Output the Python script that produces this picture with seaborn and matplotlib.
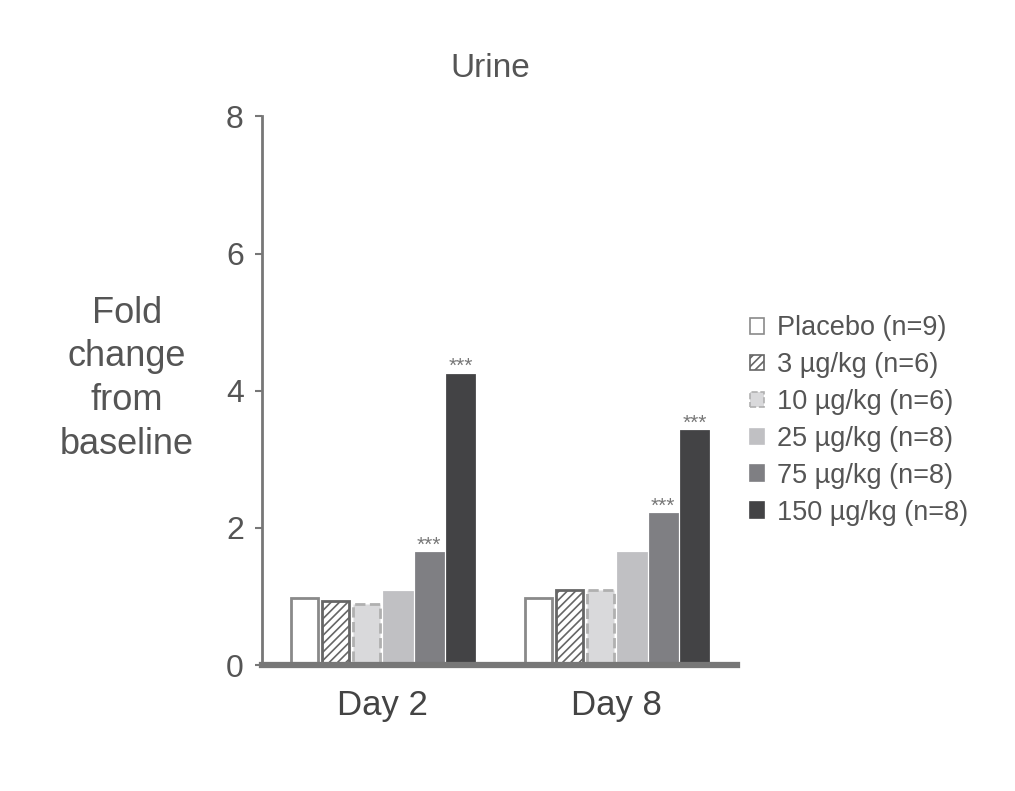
import matplotlib
matplotlib.use("Agg")
import matplotlib.pyplot as plt
import seaborn as sns
import pandas as pd
from matplotlib.patches import Patch

days = ["Day 2", "Day 8"]
doses = ["Placebo (n=9)", "3 µg/kg (n=6)", "10 µg/kg (n=6)",
         "25 µg/kg (n=8)", "75 µg/kg (n=8)", "150 µg/kg (n=8)"]
day2_values = [0.98, 0.93, 0.89, 1.06, 1.63, 4.23]
day8_values = [0.98, 1.09, 1.09, 1.63, 2.20, 3.41]
significant = [False, False, False, False, True, True]

fills = ["#ffffff", "#ffffff", "#d9d9db", "#c0c0c3", "#7f7f83", "#434345"]
edges = ["#8a8a8a", "#666666", "#b0b0b0", "#c0c0c3", "#7f7f83", "#434345"]
hatches = [None, "////", None, None, None, None]
styles = ["solid", "solid", "dashed", "solid", "solid", "solid"]

df = pd.DataFrame({
    "day": [d for d in days for _ in doses],
    "dose": doses * 2,
    "value": day2_values + day8_values,
})

sns.set_theme(style="white")
plt.rcParams["font.family"] = ["Liberation Sans", "DejaVu Sans"]
plt.rcParams["hatch.linewidth"] = 1.2

fig = plt.figure(figsize=(10.15, 7.91), dpi=100)
ax = fig.add_axes([0.258, 0.159, 0.468, 0.694])

sns.barplot(data=df, x="day", y="value", hue="dose", order=days,
            hue_order=doses, palette=fills, gap=0.13, width=0.8,
            errorbar=None, legend=False, ax=ax)

for i, p in enumerate(ax.patches):
    h = i // len(days)
    p.set_facecolor(fills[h])
    p.set_edgecolor(edges[h])
    p.set_linewidth(2.0)
    p.set_linestyle(styles[h])
    if hatches[h]:
        p.set_hatch(hatches[h])
    if significant[h]:
        ax.text(p.get_x() + p.get_width() / 2, p.get_height() + 0.04, "***",
                ha="center", va="baseline", fontsize=15, color="#777777")

ax.set_xlim(-0.515, 1.515)
ax.set_ylim(0, 8)
ax.set_yticks([0, 2, 4, 6, 8])
ax.set_xlabel("")
ax.set_ylabel("")
for s in ["top", "right"]:
    ax.spines[s].set_visible(False)
ax.spines["left"].set_color("#777777")
ax.spines["left"].set_linewidth(2)
ax.spines["bottom"].set_color("#777777")
ax.spines["bottom"].set_linewidth(4.5)
ax.tick_params(axis="y", left=True, length=5, width=1.5, color="#777777",
               labelsize=23, labelcolor="#555555", pad=8)
ax.tick_params(axis="x", bottom=False, labelsize=25, labelcolor="#444444", pad=11)

ax.set_title("Urine", fontsize=24, color="#555555", pad=28, x=0.481)
fig.text(0.125, 0.521, "Fold\nchange\nfrom\nbaseline", ha="center", va="center",
         fontsize=26, color="#555555", linespacing=1.33)

handles = [Patch(facecolor=fills[i], edgecolor=edges[i], hatch=hatches[i],
                 linewidth=1.2, linestyle=styles[i], label=doses[i])
           for i in range(len(doses))]
fig.legend(handles=handles, loc="upper left", bbox_to_anchor=(0.715, 0.632),
           frameon=False, fontsize=19.5, handlelength=0.5, handleheight=0.5,
           handletextpad=0.5, labelspacing=0.4, labelcolor="#555555")

fig.savefig("out.png", dpi=100, facecolor="white")
